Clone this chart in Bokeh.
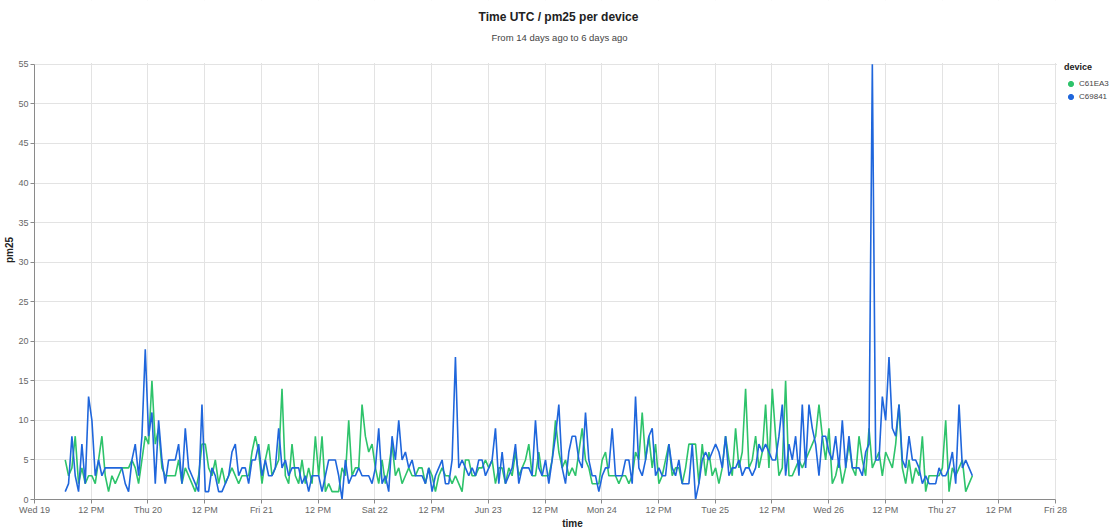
import math
import pandas as pd
from bokeh.plotting import figure
from bokeh.models import (BoxAnnotation, ColumnDataSource, FixedTicker, Label, Legend,
                          LegendItem, Range1d)
from bokeh.embed import file_html
from bokeh.resources import INLINE

# pm25 readings per device, evenly spaced between the first and last reading
pm25_c61ea3 = [
    5, 3, 4, 8, 2, 4, 2, 3, 3, 2, 5, 8, 3, 1, 3, 2, 3, 4, 4, 4, 5, 4, 2, 5, 8, 7, 15, 7, 9, 4,
    3, 3, 3, 3, 5, 2, 4, 3, 2, 1, 3, 7, 7, 4, 3, 5, 2, 4, 2, 3, 4, 3, 2,
    3, 3, 3, 6, 8, 6, 2, 5, 7, 3, 4, 5, 14, 3, 2, 7, 3, 2, 5, 2, 4, 2, 8, 3, 8, 1, 2, 1, 1, 1,
    4, 3, 10, 3, 4, 4, 12, 8, 6, 7, 4, 2, 5, 2, 4, 7, 3, 4, 2, 3, 4, 3, 3, 4,
    4, 2, 4, 3, 1, 3, 4, 3, 3, 2, 3, 2, 1, 5, 5, 3, 3, 4, 4, 5, 4, 5, 2, 4, 4, 2, 4, 3, 6, 3,
    4, 5, 7, 3, 3, 6, 3, 3, 3, 5, 10, 6, 4, 5, 3, 4, 3, 6, 9, 5, 4, 2, 2, 2,
    5, 6, 3, 3, 3, 2, 3, 3, 2, 3, 6, 5, 11, 5, 8, 4, 7, 2, 3, 5, 7, 3, 4, 4, 2, 4, 7, 7, 7, 2,
    7, 3, 6, 3, 4, 2, 4, 8, 5, 3, 9, 4, 6, 14, 4, 5, 8, 4, 6, 12, 4, 14, 8, 3,
    4, 15, 3, 3, 4, 5, 4, 5, 6, 7, 8, 12, 8, 5, 9, 2, 3, 5, 2, 4, 7, 4, 3, 8, 5, 3, 9, 4, 5, 6,
    3, 6, 5, 4, 7, 12, 4, 2, 5, 2, 4, 3, 8, 1, 3, 3, 3, 3, 4, 10, 1, 4, 3, 4, 5, 1, 2, 3,
]
pm25_c69841 = [
    1, 2, 8, 3, 1, 7, 2, 13, 10, 3, 5, 3, 4, 4, 4, 4, 4, 4, 2, 1, 5, 7, 3, 8, 19, 8, 11, 2, 10, 5,
    2, 5, 5, 5, 7, 2, 9, 4, 3, 2, 1, 12, 1, 1, 4, 3, 1, 1, 2, 3, 6, 7, 3,
    4, 4, 2, 5, 5, 7, 3, 5, 3, 3, 4, 9, 4, 5, 3, 4, 4, 4, 2, 3, 1, 3, 3, 3, 1, 3, 5, 5, 5, 3,
    0, 5, 2, 3, 3, 4, 3, 3, 3, 2, 4, 9, 2, 3, 1, 8, 5, 10, 5, 6, 4, 5, 3, 3,
    3, 2, 4, 1, 3, 4, 5, 2, 2, 5, 18, 4, 5, 4, 3, 4, 3, 5, 5, 3, 4, 5, 9, 2, 6, 2, 3, 4, 7, 2,
    4, 4, 4, 3, 10, 4, 3, 5, 2, 5, 8, 12, 4, 2, 6, 8, 8, 5, 4, 11, 5, 3, 3, 1,
    3, 4, 4, 9, 3, 3, 3, 5, 5, 2, 13, 4, 3, 5, 8, 9, 3, 4, 3, 3, 7, 4, 3, 5, 2, 2, 2, 7, 0, 2,
    5, 6, 5, 6, 7, 6, 4, 8, 3, 4, 4, 5, 3, 4, 4, 3, 4, 7, 6, 7, 6, 5, 5, 8,
    12, 3, 7, 5, 8, 3, 12, 4, 12, 9, 7, 3, 8, 8, 6, 5, 8, 4, 10, 4, 8, 4, 4, 4, 3, 6, 7, 55, 5, 5,
    13, 10, 18, 9, 8, 12, 5, 4, 8, 5, 5, 4, 2, 3, 2, 2, 2, 4, 3, 3, 4, 6, 2, 12, 4, 5, 4, 3,
]
devices = ["C61EA3", "C69841"]
device_colors = ["#2ec36b", "#1f66dc"]
first_reading = "2019-06-19 06:30"
last_reading = "2019-06-27 06:25"
window_start = "2019-06-19"
window_end = "2019-06-28"
tick_labels = ["Wed 19", "12 PM", "Thu 20", "12 PM", "Fri 21", "12 PM", "Sat 22", "12 PM",
               "Jun 23", "12 PM", "Mon 24", "12 PM", "Tue 25", "12 PM", "Wed 26", "12 PM",
               "Thu 27", "12 PM", "Fri 28"]
y_max = 55
y_ticks = list(range(0, 60, 5))

FONT = "Liberation Sans"
W, H = 1110, 531
LEFT, BOTTOM = 34, 31
FRAME_W, FRAME_H = W - LEFT, H - BOTTOM
CHART_W, CHART_H = 1021, 436   # pixel size of the charted window inside the frame

# The frame fills the canvas to the top and right so the titles and the legend can sit in it;
# the ranges are stretched so the time window and 0..55 keep their pixel size.
t0 = pd.Timestamp(window_start)
t1 = pd.Timestamp(window_end)
x_end = t0 + (t1 - t0) * (FRAME_W / CHART_W)
y_top = y_max * FRAME_H / CHART_H

p = figure(width=W, height=H, x_axis_type="datetime", output_backend="svg",
           toolbar_location=None, title=None,
           x_range=Range1d(t0, x_end), y_range=Range1d(0, y_top),
           min_border_left=LEFT, min_border_right=0,
           min_border_top=0, min_border_bottom=BOTTOM)
p.outline_line_color = None
p.background_fill_color = "white"
p.border_fill_color = "white"

tick_times = pd.date_range(window_start, window_end, freq="12h")
tick_ms = [float(t.value // 10**6) for t in tick_times]

p.xgrid.grid_line_color = "#e3e3e3"
p.ygrid.grid_line_color = "#e3e3e3"

# white masks hide the grid outside the charted window
px_time = (t1 - t0) / CHART_W
p.add_layout(BoxAnnotation(bottom=y_max + 1.5 * y_max / CHART_H, fill_color="white",
                           fill_alpha=1, line_color=None, level="underlay"))
p.add_layout(BoxAnnotation(left=t1 + 1.5 * px_time, fill_color="white",
                           fill_alpha=1, line_color=None, level="underlay"))

series = {"C61EA3": pm25_c61ea3, "C69841": pm25_c69841}
legend_items = []
for dev, col in zip(devices, device_colors):
    vals = series[dev]
    times = pd.date_range(first_reading, last_reading, periods=len(vals))
    src = ColumnDataSource(dict(time=times, pm25=vals))
    p.line("time", "pm25", source=src, line_color=col, line_width=1.6)
    # unplotted swatch so the legend shows a filled dot for each device
    swatch = p.scatter(x=[math.nan], y=[math.nan], marker="circle", size=8,
                       fill_color=col, line_color=col)
    legend_items.append(LegendItem(label=dev, renderers=[swatch]))

# axes
xa = p.xaxis[0]
xa.ticker = FixedTicker(ticks=tick_ms)
xa.major_label_overrides = {ms: lab for ms, lab in zip(tick_ms, tick_labels)}
xa.bounds = (tick_ms[0], tick_ms[-1])
ya = p.yaxis[0]
ya.ticker = FixedTicker(ticks=y_ticks)
ya.bounds = (0, y_max)
p.xgrid.ticker = xa.ticker
p.ygrid.ticker = ya.ticker

for ax in (xa, ya):
    ax.axis_line_color = "#8a8a8a"
    ax.major_tick_line_color = "#8a8a8a"
    ax.minor_tick_line_color = None
    ax.major_tick_in = 0
    ax.major_tick_out = 4
    ax.major_label_text_font = FONT
    ax.major_label_text_font_size = "9px"
    ax.major_label_text_color = "#666666"
    ax.axis_label_text_font = FONT
    ax.axis_label_text_font_size = "10px"
    ax.axis_label_text_font_style = "bold"
    ax.axis_label_text_color = "#222222"
xa.major_label_standoff = 1
xa.axis_label_standoff = 0
ya.major_label_standoff = 2
ya.axis_label_standoff = 0
xa.axis_label = "time"
ya.axis_label = "pm25"

# title and subtitle (positions in frame pixels, measured up from the frame bottom)
p.add_layout(Label(x=558 - LEFT, y=FRAME_H - 17, x_units="screen", y_units="screen",
                   text="Time UTC / pm25 per device", text_align="center",
                   text_baseline="middle", text_font=FONT, text_font_size="12px",
                   text_font_style="bold", text_color="#222222"))
p.add_layout(Label(x=559 - LEFT, y=FRAME_H - 38, x_units="screen", y_units="screen",
                   text="From 14 days ago to 6 days ago", text_align="center",
                   text_baseline="middle", text_font=FONT, text_font_size="9.5px",
                   text_color="#444444"))

legend = Legend(items=legend_items, title="device", location=(1064 - LEFT, FRAME_H - 104),
                title_text_font=FONT, title_text_font_size="9px", title_text_font_style="bold",
                title_text_color="#222222", title_standoff=5,
                label_text_font=FONT, label_text_font_size="8px", label_text_color="#444444",
                glyph_width=13, glyph_height=13, label_height=13, label_standoff=2,
                spacing=0, padding=0, margin=0,
                border_line_color=None, background_fill_alpha=0)
p.add_layout(legend)

open("out.html", "w").write(file_html(p, INLINE))
